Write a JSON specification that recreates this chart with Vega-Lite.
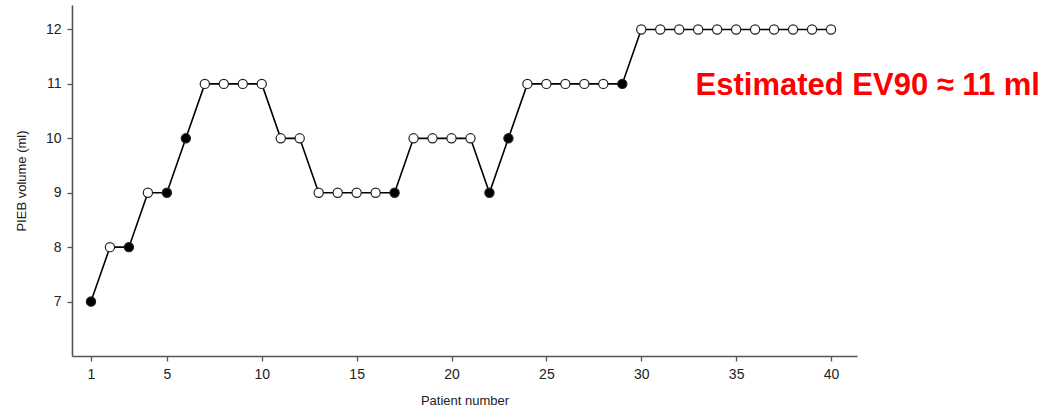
{
  "$schema": "https://vega.github.io/schema/vega-lite/v6.json",
  "autosize": "none",
  "width": 785,
  "height": 351,
  "padding": {"left": 72, "top": 5, "right": 194, "bottom": 53},
  "background": "white",
  "config": {"view": {"stroke": null}, "font": "Liberation Sans"},
  "datasets": {
    "pts": [
      {"patient": 1, "volume": 7, "outcome": "Failure"},
      {"patient": 2, "volume": 8, "outcome": "Success"},
      {"patient": 3, "volume": 8, "outcome": "Failure"},
      {"patient": 4, "volume": 9, "outcome": "Success"},
      {"patient": 5, "volume": 9, "outcome": "Failure"},
      {"patient": 6, "volume": 10, "outcome": "Failure"},
      {"patient": 7, "volume": 11, "outcome": "Success"},
      {"patient": 8, "volume": 11, "outcome": "Success"},
      {"patient": 9, "volume": 11, "outcome": "Success"},
      {"patient": 10, "volume": 11, "outcome": "Success"},
      {"patient": 11, "volume": 10, "outcome": "Success"},
      {"patient": 12, "volume": 10, "outcome": "Success"},
      {"patient": 13, "volume": 9, "outcome": "Success"},
      {"patient": 14, "volume": 9, "outcome": "Success"},
      {"patient": 15, "volume": 9, "outcome": "Success"},
      {"patient": 16, "volume": 9, "outcome": "Success"},
      {"patient": 17, "volume": 9, "outcome": "Failure"},
      {"patient": 18, "volume": 10, "outcome": "Success"},
      {"patient": 19, "volume": 10, "outcome": "Success"},
      {"patient": 20, "volume": 10, "outcome": "Success"},
      {"patient": 21, "volume": 10, "outcome": "Success"},
      {"patient": 22, "volume": 9, "outcome": "Failure"},
      {"patient": 23, "volume": 10, "outcome": "Failure"},
      {"patient": 24, "volume": 11, "outcome": "Success"},
      {"patient": 25, "volume": 11, "outcome": "Success"},
      {"patient": 26, "volume": 11, "outcome": "Success"},
      {"patient": 27, "volume": 11, "outcome": "Success"},
      {"patient": 28, "volume": 11, "outcome": "Success"},
      {"patient": 29, "volume": 11, "outcome": "Failure"},
      {"patient": 30, "volume": 12, "outcome": "Success"},
      {"patient": 31, "volume": 12, "outcome": "Success"},
      {"patient": 32, "volume": 12, "outcome": "Success"},
      {"patient": 33, "volume": 12, "outcome": "Success"},
      {"patient": 34, "volume": 12, "outcome": "Success"},
      {"patient": 35, "volume": 12, "outcome": "Success"},
      {"patient": 36, "volume": 12, "outcome": "Success"},
      {"patient": 37, "volume": 12, "outcome": "Success"},
      {"patient": 38, "volume": 12, "outcome": "Success"},
      {"patient": 39, "volume": 12, "outcome": "Success"},
      {"patient": 40, "volume": 12, "outcome": "Success"}
    ],
    "note": [{"x": 32.86, "y": 10.97, "label": "Estimated EV90 ≈ 11 ml"}]
  },
  "layer": [
    {
      "data": {"name": "pts"},
      "mark": {"type": "line", "color": "black", "strokeWidth": 1.6},
      "encoding": {
        "x": {
          "field": "patient", "type": "quantitative",
          "scale": {"domain": [0, 41.37], "nice": false, "zero": false},
          "axis": {
            "values": [1, 5, 10, 15, 20, 25, 30, 35, 40],
            "title": "Patient number",
            "titleFont": "Liberation Sans", "titleFontSize": 13, "titleFontWeight": "normal", "titleColor": "#222",
            "titlePadding": 13,
            "labelFont": "Liberation Sans", "labelFontSize": 14, "labelColor": "#222", "labelPadding": 6,
            "domainColor": "#555", "domainWidth": 1.6, "tickColor": "#555", "tickWidth": 1.3, "tickSize": 5,
            "grid": false
          }
        },
        "y": {
          "field": "volume", "type": "quantitative",
          "scale": {"domain": [6, 12.45], "nice": false, "zero": false},
          "axis": {
            "values": [7, 8, 9, 10, 11, 12],
            "title": "PIEB volume (ml)",
            "titleFont": "Liberation Sans", "titleFontSize": 13, "titleFontWeight": "normal", "titleColor": "#222",
            "titlePadding": 17,
            "labelFont": "Liberation Sans", "labelFontSize": 14, "labelColor": "#222", "labelPadding": 6,
            "domainColor": "#555", "domainWidth": 1.6, "tickColor": "#555", "tickWidth": 1.3, "tickSize": 5,
            "grid": false
          }
        }
      }
    },
    {
      "data": {"name": "pts"},
      "mark": {"type": "point", "shape": "circle", "size": 85, "stroke": "#222", "strokeWidth": 1.2, "opacity": 1, "filled": false},
      "encoding": {
        "x": {"field": "patient", "type": "quantitative"},
        "y": {"field": "volume", "type": "quantitative"},
        "fill": {
          "field": "outcome", "type": "nominal",
          "scale": {"domain": ["Failure", "Success"], "range": ["black", "white"]},
          "legend": null
        }
      }
    },
    {
      "data": {"name": "note"},
      "mark": {"type": "text", "align": "left", "baseline": "middle", "color": "#FF0000", "font": "Liberation Sans", "fontSize": 31, "fontWeight": "bold"},
      "encoding": {
        "x": {"field": "x", "type": "quantitative"},
        "y": {"field": "y", "type": "quantitative"},
        "text": {"field": "label"}
      }
    }
  ]
}
